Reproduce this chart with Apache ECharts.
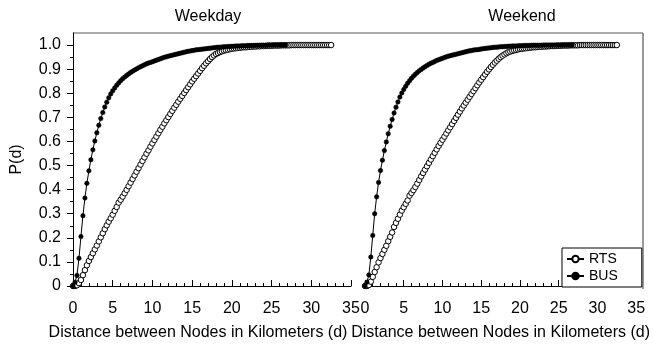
<!DOCTYPE html>
<html>
<head>
<meta charset="utf-8">
<script src="https://cdn.jsdelivr.net/npm/echarts@6/dist/echarts.min.js"></script>
<style>
  html, body { margin: 0; padding: 0; background: #fff; }
  #chart { width: 653px; height: 346px; }
</style>
</head>
<body>
<div id="chart"></div>
<script>
// Sampled distances (km) for each service
const rtsKm = [0,0.25,0.5,0.75,1,1.25,1.5,1.75,2,2.25,2.5,2.75,3,3.25,3.5,3.75,4,4.25,4.5,4.75,5,5.25,5.5,5.75,6,6.25,6.5,6.75,7,7.25,7.5,7.75,8,8.25,8.5,8.75,9,9.25,9.5,9.75,10,10.25,10.5,10.75,11,11.25,11.5,11.75,12,12.25,12.5,12.75,13,13.25,13.5,13.75,14,14.25,14.5,14.75,15,15.25,15.5,15.75,16,16.25,16.5,16.75,17,17.25,17.5,17.75,18,18.25,18.5,18.75,19,19.25,19.5,19.75,20,20.25,20.5,20.75,21,21.25,21.5,21.75,22,22.25,22.5,22.75,23,23.25,23.5,23.75,24,24.25,24.5,24.75,25,25.25,25.5,25.75,26,26.25,26.5,26.75,27,27.25,27.5,27.75,28,28.25,28.5,28.75,29,29.25,29.5,29.75,30,30.25,30.5,30.75,31,31.25,31.5,31.75,32,32.25,32.5];
const busKm = [0,0.25,0.5,0.75,1,1.25,1.5,1.75,2,2.25,2.5,2.75,3,3.25,3.5,3.75,4,4.25,4.5,4.75,5,5.25,5.5,5.75,6,6.25,6.5,6.75,7,7.25,7.5,7.75,8,8.25,8.5,8.75,9,9.25,9.5,9.75,10,10.25,10.5,10.75,11,11.25,11.5,11.75,12,12.25,12.5,12.75,13,13.25,13.5,13.75,14,14.25,14.5,14.75,15,15.25,15.5,15.75,16,16.25,16.5,16.75,17,17.25,17.5,17.75,18,18.25,18.5,18.75,19,19.25,19.5,19.75,20,20.25,20.5,20.75,21,21.25,21.5,21.75,22,22.25,22.5,22.75,23,23.25,23.5,23.75,24,24.25,24.5,24.75,25,25.25,25.5,25.75,26,26.25,26.5,26.75];

// Cumulative probability P(d), weekday
const weekdayRts = [
  0,0,0.003,0.012, 0.025,0.045,0.066,0.086, 0.104,0.12,0.136,0.152, 0.168,0.185,0.202,0.219,
  0.236,0.252,0.267,0.281, 0.296,0.312,0.328,0.346, 0.358,0.371,0.385,0.399, 0.414,0.429,0.444,0.459,
  0.474,0.489,0.504,0.519, 0.534,0.549,0.563,0.578, 0.592,0.606,0.620,0.634, 0.648,0.661,0.675,0.688,
  0.701,0.714,0.727,0.740, 0.752,0.765,0.777,0.789, 0.801,0.813,0.825,0.837, 0.849,0.860,0.871,0.882,
  0.893,0.904,0.914,0.924, 0.933,0.942,0.950,0.957, 0.963,0.967,0.971,0.974, 0.977,0.979,0.981,0.983,
  0.985,0.986,0.987,0.988, 0.989,0.990,0.991,0.991, 0.992,0.993,0.993,0.994, 0.994,0.995,0.995,0.996,
  0.996,0.996,0.997,0.997, 0.997,0.998,0.998,0.998, 0.998,0.999,0.999,0.999, 0.999,0.999,1,1,
  1,1,1,1, 1,1,1,1, 1,1,1,1, 1,1,1,1, 1,1,1
];
const weekdayBus = [
  0,0.016,0.044,0.115, 0.205,0.292,0.365,0.426, 0.478,0.524,0.565,0.602, 0.636,0.667,0.695,0.720,
  0.743,0.763,0.781,0.797, 0.810,0.822,0.833,0.843, 0.852,0.860,0.867,0.874, 0.880,0.886,0.891,0.896,
  0.901,0.906,0.910,0.914, 0.918,0.922,0.925,0.928, 0.931,0.934,0.937,0.940, 0.943,0.946,0.949,0.951,
  0.954,0.956,0.958,0.960, 0.962,0.964,0.966,0.968, 0.970,0.972,0.974,0.975, 0.977,0.978,0.980,0.981,
  0.982,0.983,0.984,0.985, 0.986,0.987,0.988,0.989, 0.990,0.991,0.991,0.992, 0.993,0.993,0.994,0.994,
  0.995,0.995,0.996,0.996, 0.996,0.997,0.997,0.997, 0.998,0.998,0.998,0.998, 0.999,0.999,0.999,0.999,
  0.999,0.999,1,1, 1,1,1,1, 1,1,1,1
];

// Cumulative probability P(d), weekend
const weekendRts = [
  0,0,0.004,0.018, 0.038,0.058,0.078,0.098, 0.116,0.133,0.150,0.167, 0.186,0.204,0.222,0.245,
  0.262,0.279,0.296,0.313, 0.327,0.341,0.355,0.375, 0.386,0.398,0.411,0.425, 0.440,0.455,0.469,0.483,
  0.497,0.511,0.525,0.539, 0.553,0.567,0.581,0.594, 0.607,0.620,0.633,0.646, 0.659,0.672,0.685,0.698,
  0.711,0.724,0.737,0.749, 0.761,0.773,0.785,0.797, 0.809,0.821,0.833,0.845, 0.856,0.867,0.878,0.889,
  0.899,0.909,0.918,0.927, 0.935,0.943,0.950,0.956, 0.961,0.966,0.970,0.973, 0.976,0.978,0.980,0.982,
  0.984,0.985,0.986,0.987, 0.988,0.989,0.990,0.991, 0.991,0.992,0.993,0.993, 0.994,0.994,0.995,0.995,
  0.996,0.996,0.996,0.997, 0.997,0.997,0.998,0.998, 0.998,0.998,0.999,0.999, 0.999,0.999,0.999,1,
  1,1,1,1, 1,1,1,1, 1,1,1,1, 1,1,1,1, 1,1,1
];
const weekendBus = [
  0,0.016,0.046,0.120, 0.210,0.300,0.370,0.430, 0.479,0.522,0.562,0.598, 0.632,0.663,0.691,0.718,
  0.742,0.764,0.784,0.801, 0.816,0.829,0.841,0.852, 0.862,0.871,0.879,0.886, 0.893,0.899,0.905,0.910,
  0.915,0.920,0.924,0.928, 0.932,0.936,0.939,0.942, 0.945,0.948,0.951,0.954, 0.956,0.958,0.960,0.962,
  0.964,0.966,0.968,0.970, 0.972,0.974,0.976,0.977, 0.979,0.980,0.981,0.982, 0.984,0.985,0.986,0.987,
  0.988,0.989,0.990,0.991, 0.991,0.992,0.993,0.993, 0.994,0.994,0.995,0.995, 0.996,0.996,0.996,0.997,
  0.997,0.997,0.998,0.998, 0.998,0.998,0.999,0.999, 0.999,0.999,0.999,0.999, 1,1,1,1,
  1,1,1,1, 1,1,1,1, 1,1,1,1
];

const panelTitles = ['Weekday', 'Weekend'];
const seriesNames = ['RTS', 'BUS'];
const yTickValues = [0,0.1,0.2,0.3,0.4,0.5,0.6,0.7,0.8,0.9,1.0];
const yMinorValues = [0.05,0.15,0.25,0.35,0.45,0.55,0.65,0.75,0.85,0.95];
const xAxisTitle = 'Distance between Nodes in Kilometers (d)';
const yAxisTitle = 'P(d)';

// Layout of the two panels (px)
const FONT = '"Liberation Sans", Arial, Helvetica, sans-serif';
const PLOT_TOP = 33, PLOT_H = 256, PLOT_W = 278;
const PANEL_LEFT = [73, 365];
const PLOT_RIGHT = PANEL_LEFT[1] + PLOT_W;
const PLOT_BOTTOM = PLOT_TOP + PLOT_H;

const pairs = (xs, ys) => xs.map((x, i) => [x, ys[i]]);

const rtsStyle = {
  type: 'line', name: 'RTS', symbol: 'circle', symbolSize: 5.5,
  itemStyle: { color: '#fff', borderColor: '#000', borderWidth: 1 },
  lineStyle: { color: '#000', width: 1 }, z: 2
};
const busStyle = {
  type: 'line', name: 'BUS', symbol: 'circle', symbolSize: 4.5,
  itemStyle: { color: '#000', borderColor: '#000', borderWidth: 0.5 },
  lineStyle: { color: '#000', width: 1 }, z: 3
};

const xAxes = PANEL_LEFT.map((_, i) => ({
  gridIndex: i, type: 'value', min: 0, max: 35, interval: 5,
  axisLine: { lineStyle: { color: '#000', width: 1 } },
  axisTick: { inside: true, length: 6, lineStyle: { color: '#000' } },
  minorTick: { show: true, splitNumber: 5, length: 3, lineStyle: { color: '#000' } },
  splitLine: { show: false },
  axisLabel: { color: '#000', fontSize: 16, fontFamily: FONT, margin: 15 },
  name: xAxisTitle, nameLocation: 'middle', nameGap: 39,
  nameTextStyle: { color: '#000', fontSize: 16, fontFamily: FONT,
    padding: i === 0 ? [0, 28, 0, 0] : 0 }
}));

const yAxes = [
  {
    gridIndex: 0, type: 'value', min: 0, max: 1.05, position: 'left',
    axisLine: { lineStyle: { color: '#000', width: 1 } },
    axisTick: { show: true, length: 6, customValues: yTickValues, lineStyle: { color: '#000' } },
    splitLine: { show: false },
    axisLabel: { customValues: yTickValues, color: '#000', fontSize: 16, fontFamily: FONT, margin: 12,
      formatter: v => (v === 0 ? '0' : v.toFixed(1)) },
    name: yAxisTitle, nameLocation: 'middle', nameGap: 48,
    nameTextStyle: { color: '#000', fontSize: 16, fontFamily: FONT }
  },
  {
    // minor ticks at the half steps
    gridIndex: 0, type: 'value', min: 0, max: 1.05, position: 'left',
    axisLine: { show: false },
    axisTick: { show: true, length: 3, customValues: yMinorValues, lineStyle: { color: '#000' } },
    axisLabel: { show: false }, splitLine: { show: false }
  },
  {
    gridIndex: 1, type: 'value', min: 0, max: 1.05, show: false,
    splitLine: { show: false }
  }
];

const chart = echarts.init(document.getElementById('chart'), null, { renderer: 'canvas' });
chart.setOption({
  animation: false,
  backgroundColor: '#fff',
  textStyle: { fontFamily: FONT },
  grid: PANEL_LEFT.map(left => ({ left: left, top: PLOT_TOP, width: PLOT_W, height: PLOT_H })),
  xAxis: xAxes,
  yAxis: yAxes,
  legend: {
    orient: 'vertical', left: 562, top: 248, data: seriesNames,
    backgroundColor: '#fff', borderColor: '#000', borderWidth: 1, borderRadius: 0,
    padding: [4, 24, 4, 4], itemGap: 3, itemWidth: 17, itemHeight: 8,
    textStyle: { color: '#000', fontSize: 14, fontFamily: FONT }
  },
  graphic: [
    // frame lines along the top and the right edge
    { type: 'line', shape: { x1: PANEL_LEFT[0], y1: PLOT_TOP, x2: PLOT_RIGHT, y2: PLOT_TOP },
      style: { stroke: '#555', lineWidth: 1 } },
    { type: 'line', shape: { x1: PLOT_RIGHT, y1: PLOT_TOP, x2: PLOT_RIGHT, y2: PLOT_BOTTOM },
      style: { stroke: '#777', lineWidth: 1.5 } },
    { type: 'text', x: 208, y: 9,
      style: { text: panelTitles[0], textAlign: 'center', textVerticalAlign: 'top',
        fontSize: 16, fontFamily: FONT, fill: '#000' } },
    { type: 'text', x: 522, y: 9,
      style: { text: panelTitles[1], textAlign: 'center', textVerticalAlign: 'top',
        fontSize: 16, fontFamily: FONT, fill: '#000' } }
  ],
  series: [
    Object.assign({}, rtsStyle, { xAxisIndex: 0, yAxisIndex: 0, data: pairs(rtsKm, weekdayRts) }),
    Object.assign({}, busStyle, { xAxisIndex: 0, yAxisIndex: 0, data: pairs(busKm, weekdayBus) }),
    Object.assign({}, rtsStyle, { xAxisIndex: 1, yAxisIndex: 2, data: pairs(rtsKm, weekendRts) }),
    Object.assign({}, busStyle, { xAxisIndex: 1, yAxisIndex: 2, data: pairs(busKm, weekendBus) })
  ]
});
</script>
</body>
</html>
